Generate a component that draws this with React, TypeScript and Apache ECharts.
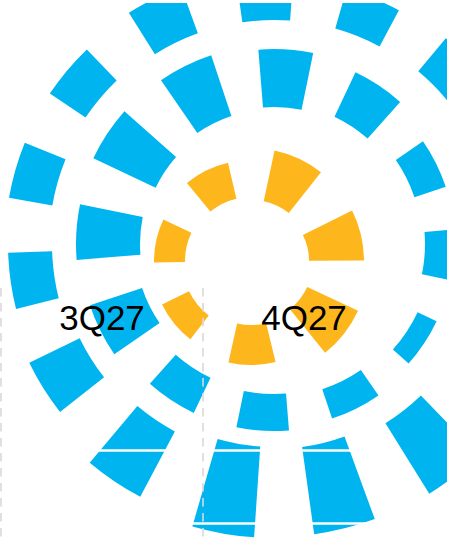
import React, { useEffect, useRef } from 'react';
import * as echarts from 'echarts';

// x-axis quarter labels
const quarterLabels = ['3Q27', '4Q27'];

// inner (orange) ring: 7 segments, radial start / end values
const orangeCats = ['O1', 'O2', 'O3', 'O4', 'O5', 'O6', 'O7'];
const orangeStart = [64, 61, 58, 62, 64, 69, 66];
const orangeEnd = [101, 113, 113, 118, 104, 99, 97];

// middle (blue) ring: 12 segments
const middleCats = ['M1', 'M2', 'M3', 'M4', 'M5', 'M6', 'M7', 'M8', 'M9', 'M10', 'M11', 'M12'];
const middleStart = [137, 141, 148, 151, 159, 153, 150, 148, 139, 134, 131, 135];
const middleEnd = [195, 190, 181, 186, 180, 184, 187, 187, 194, 198, 200, 199];

// outer (blue) ring: 15 segments
const outerCats = ['R1', 'R2', 'R3', 'R4', 'R5', 'R6', 'R7', 'R8', 'R9', 'R10', 'R11', 'R12', 'R13', 'R14', 'R15'];
const outerStart = [224, 224, 225, 222, 218, 214, 211, 205, 203, 212, 216, 222, 225, 227, 224];
const outerEnd = [265, 265, 268, 270, 275, 285, 294, 293, 294, 286, 272, 266, 269, 270, 273];

const BLUE = '#00B5EF';
const ORANGE = '#FDB71D';

function ringSeries(polarIndex: number, start: number[], end: number[], color: string, width: string) {
  const stack = 'ring' + polarIndex;
  return [
    {
      type: 'bar',
      coordinateSystem: 'polar',
      polarIndex,
      stack,
      barWidth: width,
      silent: true,
      itemStyle: { color: 'rgba(0,0,0,0)' },
      data: start,
      z: 2,
    },
    {
      type: 'bar',
      coordinateSystem: 'polar',
      polarIndex,
      stack,
      barWidth: width,
      itemStyle: { color },
      data: end.map((v, i) => v - start[i]),
      z: 2,
    },
  ];
}

export default function App() {
  const ref = useRef<HTMLDivElement>(null);
  useEffect(() => {
    if (!ref.current) return;
    const chart = echarts.init(ref.current, undefined, { renderer: 'svg' });
    chart.setOption({
      animation: false,
      backgroundColor: '#ffffff',
      polar: [
        { center: [251, 258], radius: 300 },
        { center: [274, 241], radius: 300 },
        { center: [274, 241], radius: 300 },
      ],
      angleAxis: [
        { polarIndex: 0, type: 'category', data: orangeCats, startAngle: 142, show: false },
        { polarIndex: 1, type: 'category', data: middleCats, startAngle: 101.5, show: false },
        { polarIndex: 2, type: 'category', data: outerCats, startAngle: 104, show: false },
      ],
      radiusAxis: [
        { polarIndex: 0, type: 'value', min: 0, max: 300, show: false },
        { polarIndex: 1, type: 'value', min: 0, max: 300, show: false },
        { polarIndex: 2, type: 'value', min: 0, max: 300, show: false },
      ],
      grid: [
        { left: 1, top: 285, width: 404, bottom: 0 },
        { left: 0, top: 447, width: 401, height: 73 },
      ],
      xAxis: [
        {
          gridIndex: 0,
          type: 'category',
          data: quarterLabels,
          position: 'top',
          z: 10,
          axisLine: { show: false, onZero: false },
          axisTick: { show: false },
          axisLabel: {
            inside: true,
            margin: 12,
            fontSize: 35,
            color: '#000',
            fontFamily: 'Liberation Sans, Arial, Helvetica, sans-serif',
          },
          splitLine: {
            show: true,
            showMaxLine: false,
            lineStyle: { color: '#d9d9d9', width: 1.6, type: [8.5, 6.5] },
          },
        },
        {
          gridIndex: 1,
          type: 'value',
          show: false,
          min: 0,
          max: 1,
        },
      ],
      yAxis: [
        { gridIndex: 0, type: 'value', show: false, min: 0, max: 1 },
        {
          gridIndex: 1,
          type: 'value',
          min: 0,
          max: 1,
          interval: 1,
          z: 10,
          axisLine: { show: false },
          axisTick: { show: false },
          axisLabel: { show: false },
          splitLine: { show: true, lineStyle: { color: '#ffffff', width: 2.5 } },
        },
      ],
      series: [
        ...ringSeries(0, orangeStart, orangeEnd, ORANGE, '51%'),
        ...ringSeries(1, middleStart, middleEnd, BLUE, '54%'),
        ...ringSeries(2, outerStart, outerEnd, BLUE, '51%'),
      ],
    });
    return () => chart.dispose();
  }, []);
  return (
    <div
      ref={ref}
      style={{ position: 'fixed', left: 0, top: 3, width: 447, height: 535 }}
    />
  );
}
